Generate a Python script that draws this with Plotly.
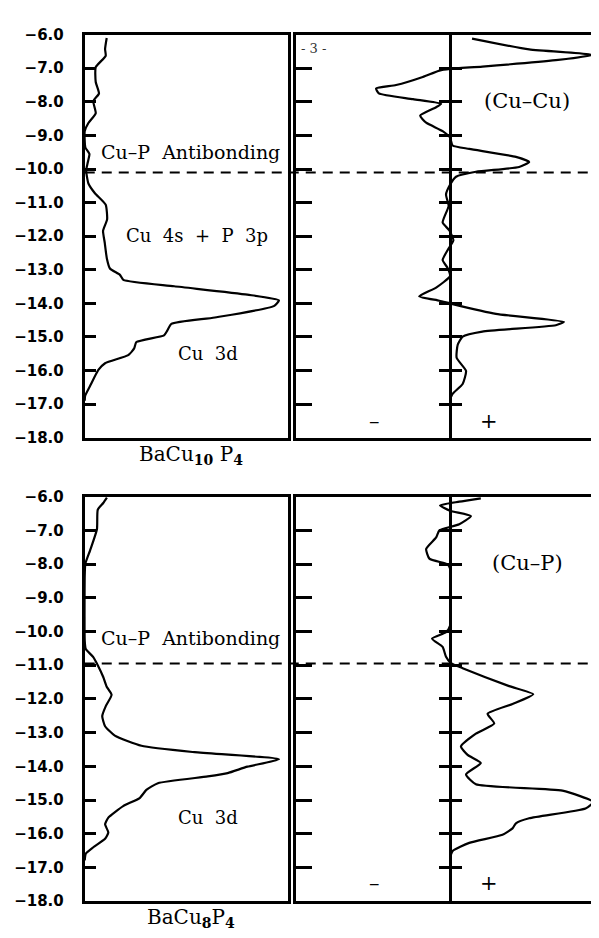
import plotly.graph_objects as go

W, H = 599, 938

# ---------------- data ----------------
E_TICKS = [-6, -7, -8, -9, -10, -11, -12, -13, -14, -15, -16, -17, -18]
E_TICK_LABELS = ["\u22126.0", "\u22127.0", "\u22128.0", "\u22129.0", "\u221210.0", "\u221211.0",
                 "\u221212.0", "\u221213.0", "\u221214.0", "\u221215.0", "\u221216.0", "\u221217.0",
                 "\u221218.0"]

# BaCu10P4 total DOS
dos1_E = [-6.1, -6.43, -6.63, -6.97, -7.41, -7.75, -7.98, -8.34, -8.63, -8.87, -9.36, -9.55,
          -9.8, -10.04, -10.43, -10.72, -11.06, -11.5, -11.84, -12.18, -12.67, -12.96, -13.15,
          -13.3, -13.49, -13.74, -13.91, -14.08, -14.42, -14.61, -14.81, -14.95, -15.15, -15.34,
          -15.54, -15.78, -15.98, -16.46, -16.75, -16.9]
dos1_v = [0.108, 0.10, 0.103, 0.054, 0.054, 0.07, 0.042, 0.054, 0.018, 0.0, 0.003, 0.023,
          0.015, 0.007, 0.018, 0.05, 0.103, 0.11, 0.09, 0.098, 0.109, 0.124, 0.173,
          0.19, 0.44, 0.80, 0.955, 0.93, 0.64, 0.426, 0.406, 0.39, 0.254, 0.243,
          0.214, 0.10, 0.067, 0.026, 0.002, 0.0]

# BaCu10P4 Cu-Cu COOP
coop1_E = [-6.12, -6.44, -6.60, -6.76, -6.95, -7.02, -7.07, -7.26, -7.5, -7.6, -7.75, -7.92,
           -8.06, -8.16, -8.41, -8.62, -8.87, -9.06, -9.3, -9.4, -9.64, -9.79, -9.94, -10.08,
           -10.23, -10.47, -10.76, -11.1, -11.59, -11.83, -12.12, -12.41, -12.71, -12.95,
           -13.19, -13.53, -13.79, -13.92, -14.02, -14.31, -14.55, -14.65, -14.84, -14.99,
           -15.23, -15.62, -16.01, -16.4, -16.69, -16.84]
coop1_v = [0.143, 0.514, 0.93, 0.687, 0.21, 0.0, -0.069, -0.177, -0.35, -0.48, -0.462, -0.24,
           -0.058, -0.09, -0.194, -0.155, -0.048, 0.0, 0.017, 0.125, 0.428, 0.514, 0.449, 0.168,
           0.039, 0.0, -0.026, -0.009, -0.048, -0.004, 0.022, -0.015, -0.048, -0.015,
           0.0, -0.09, -0.2, -0.069, 0.017, 0.298, 0.74, 0.687, 0.21, 0.082,
           0.05, 0.043, 0.104, 0.082, 0.017, 0.0]

# BaCu8P4 total DOS
dos2_E = [-6.03, -6.19, -6.39, -6.97, -7.6, -7.99, -8.33, -10.28, -10.52, -10.76, -11.0,
          -11.35, -11.64, -11.88, -12.22, -12.51, -12.81, -13.09, -13.39, -13.58, -13.79,
          -14.01, -14.2, -14.3, -14.5, -14.7, -14.94, -15.18, -15.52, -15.72, -15.96, -16.15,
          -16.4, -16.59, -16.79]
dos2_v = [0.109, 0.091, 0.064, 0.06, 0.026, 0.003, 0.0, 0.0, 0.005, 0.042, 0.064,
          0.091, 0.108, 0.132, 0.103, 0.086, 0.1, 0.148, 0.279, 0.54, 0.955,
          0.80, 0.703, 0.605, 0.36, 0.303, 0.27, 0.189, 0.116, 0.1, 0.116, 0.1,
          0.042, 0.005, 0.0]

# BaCu8P4 Cu-P COOP
coop2_E = [-6.05, -6.15, -6.26, -6.42, -6.58, -6.82, -7.0, -7.21, -7.55, -7.84, -8.01, -8.13,
           -9.83, -10.02, -10.21, -10.46, -10.75, -10.94, -11.09, -11.62, -11.86, -12.15,
           -12.44, -12.73, -13.03, -13.41, -13.66, -13.9, -14.24, -14.53, -14.72, -15.06,
           -15.25, -15.54, -15.69, -15.84, -16.03, -16.27, -16.51, -16.71]
coop2_v = [0.2, 0.06, -0.065, 0.0, 0.136, 0.06, -0.069, -0.09, -0.155, -0.134, -0.015, 0.0,
           0.0, -0.026, -0.117, -0.048, -0.026, 0.006, 0.082, 0.384, 0.54, 0.406,
           0.244, 0.287, 0.168, 0.071, 0.114, 0.2, 0.104, 0.168, 0.73, 0.93,
           0.88, 0.514, 0.428, 0.406, 0.341, 0.125, 0.017, 0.0]

FERMI_TOP = -10.1
FERMI_BOT = -10.95

# ---------------- layout helpers ----------------
def px_x(p):
    return p / W

def px_y(p):
    return 1 - p / H

XL = [px_x(77), px_x(281)]
XR = [px_x(289), px_x(598)]
YT = [px_y(429), px_y(18)]
YB = [px_y(901.5), px_y(489)]
ZERO_POS = px_x(443.5)

BORDER = 3
CURVE = 2.2
ERANGE = [-18, -6]

fig = go.Figure()

def curve(x, y, xa, ya):
    fig.add_trace(go.Scatter(x=x, y=y, xaxis=xa, yaxis=ya, mode="lines",
                             line=dict(color="black", width=CURVE, shape="spline", smoothing=0.5),
                             showlegend=False, hoverinfo="skip", cliponaxis=True))

curve(dos1_v, dos1_E, "x", "y")
curve(coop1_v, coop1_E, "x2", "y2")
curve(dos2_v, dos2_E, "x3", "y3")
curve(coop2_v, coop2_E, "x4", "y4")

# dummy traces so the zero-line axes are drawn
for xa, ya in [("x2", "y5"), ("x2", "y6"), ("x4", "y7"), ("x4", "y8")]:
    fig.add_trace(go.Scatter(x=[None], y=[None], xaxis=xa, yaxis=ya, mode="lines",
                             showlegend=False, hoverinfo="skip"))

tickfont = dict(family="DejaVu Sans", size=15, color="black", weight="bold")

def xax(domain, anchor, rng):
    return dict(domain=domain, anchor=anchor, range=rng, showgrid=False, zeroline=False,
                showticklabels=False, ticks="", showline=True, mirror=True,
                linecolor="black", linewidth=BORDER, fixedrange=True)

def yax(domain, anchor, labels, ticklen):
    d = dict(domain=domain, anchor=anchor, range=ERANGE, showgrid=False, zeroline=False,
             showline=True, mirror=True, linecolor="black", linewidth=BORDER,
             ticks="inside", ticklen=ticklen, tickwidth=2.5, tickcolor="black",
             tickvals=E_TICKS, fixedrange=True)
    if labels:
        d.update(ticktext=E_TICK_LABELS, showticklabels=True, tickfont=tickfont,
                 ticklabelstandoff=15)
    else:
        d.update(showticklabels=False)
    return d

def zax(over, ticks):
    return dict(overlaying=over, anchor="free", position=ZERO_POS, range=ERANGE,
                showgrid=False, zeroline=False, showline=True, linecolor="black",
                linewidth=2.5, ticks=ticks, ticklen=10, tickwidth=2.5, tickcolor="black",
                tickvals=E_TICKS[1:-1], showticklabels=False, fixedrange=True)

fig.update_layout(
    width=W, height=H,
    margin=dict(l=0, r=0, t=0, b=0),
    paper_bgcolor="white", plot_bgcolor="white",
    xaxis=xax(XL, "y", [0, 1]),
    yaxis=yax(YT, "x", True, 11),
    xaxis2=xax(XR, "y2", [-1, 1]),
    yaxis2=yax(YT, "x2", False, 16),
    xaxis3=xax(XL, "y3", [0, 1]),
    yaxis3=yax(YB, "x3", True, 11),
    xaxis4=xax(XR, "y4", [-1, 1]),
    yaxis4=yax(YB, "x4", False, 16),
    yaxis5=zax("y2", "outside"),
    yaxis6=zax("y2", "inside"),
    yaxis7=zax("y4", "outside"),
    yaxis8=zax("y4", "inside"),
)

# Fermi levels (dashed, spanning both panels)
dash = dict(color="black", width=2, dash="10px,7px")
fig.add_shape(type="line", xref="paper", yref="y", x0=XL[0], x1=XR[1],
              y0=FERMI_TOP, y1=FERMI_TOP, line=dash, layer="above")
fig.add_shape(type="line", xref="paper", yref="y3", x0=XL[0], x1=XR[1],
              y0=FERMI_BOT, y1=FERMI_BOT, line=dash, layer="above")

serif = "DejaVu Serif"
NB = "\u00a0"

def note(text, x, y, xref, yref, size=18, weight="normal"):
    fig.add_annotation(text=text, x=x, y=y, xref=xref, yref=yref, showarrow=False,
                       font=dict(family=serif, size=size, color="black", weight=weight),
                       xanchor="center", yanchor="middle")

note("Cu\u2013P" + NB * 2 + "Antibonding", 0.52, -9.5, "x", "y", 19)
note("Cu" + NB * 2 + "4s" + NB * 2 + "+" + NB * 2 + "P" + NB * 2 + "3p", 0.55, -11.98, "x", "y")
note("Cu" + NB * 2 + "3d", 0.605, -15.5, "x", "y")
note("(Cu\u2013Cu)", 0.5, -7.98, "x2", "y2", 21)
note("\u2013", -0.49, -17.5, "x2", "y2", 21)
note("+", 0.255, -17.5, "x2", "y2", 21)

note("Cu\u2013P" + NB * 2 + "Antibonding", 0.52, -10.2, "x3", "y3", 19)
note("Cu" + NB * 2 + "3d", 0.605, -15.53, "x3", "y3")
note("(Cu\u2013P)", 0.5, -7.98, "x4", "y4", 21)
note("\u2013", -0.49, -17.46, "x4", "y4", 21)
note("+", 0.255, -17.46, "x4", "y4", 21)

# panel captions
fig.add_annotation(text="BaCu<sub><b>10</b></sub>" + NB + "P<sub><b>4</b></sub>", x=px_x(184), y=px_y(447),
                   xref="paper", yref="paper", showarrow=False,
                   font=dict(family=serif, size=20, color="black"),
                   xanchor="center", yanchor="middle")
fig.add_annotation(text="BaCu<sub><b>8</b></sub>P<sub><b>4</b></sub>", x=px_x(184), y=px_y(919),
                   xref="paper", yref="paper", showarrow=False,
                   font=dict(family=serif, size=20, color="black"),
                   xanchor="center", yanchor="middle")

# page-number artefact
fig.add_annotation(text="- 3 -", x=px_x(307), y=px_y(32), xref="paper", yref="paper",
                   showarrow=False, font=dict(family=serif, size=13, color="#333"),
                   xanchor="center", yanchor="middle")

fig.write_html("out.html")
